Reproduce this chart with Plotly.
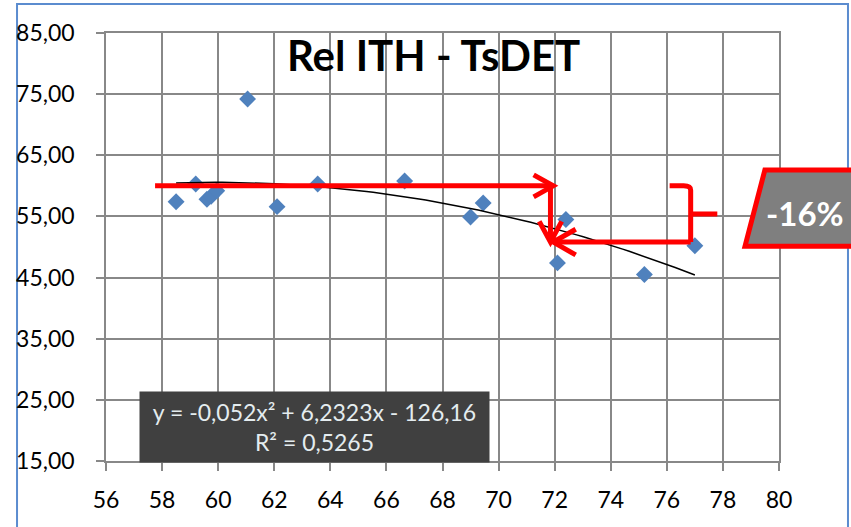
"""
Rel ITH - TsDET scatter with quadratic trend line and the -16% callout.
"""
import numpy as np
import plotly.graph_objects as go

# Data points
ith_x = [58.5, 59.2, 59.6, 59.75, 59.95, 61.05, 62.1, 63.55, 66.65, 69.0, 69.45, 72.4, 72.1, 75.2, 77.0]
tsdet_y = [57.4, 60.3, 57.8, 58.3, 59.2, 74.2, 56.6, 60.3, 60.8, 54.9, 57.2, 54.5, 47.4, 45.5, 50.2]

# Trend line coefficients shown in the chart (y = a x^2 + b x + c)
trend_a = -0.052
trend_b = 6.2323
trend_c = -126.16
trend_label = "y = -0,052x² + 6,2323x - 126,16<br>R² = 0,5265"

# Callout levels (before / after)
level_before = 60.0
level_after = 50.8
callout_text = "-16%"

x_ticks = list(range(56, 81, 2))
y_ticks = list(range(15, 86, 10))

FONT = "Lato, 'Liberation Sans', sans-serif"
GRID = "#888888"
RED = "#ff0000"

fig = go.Figure()

fig.add_scatter(
    x=ith_x, y=tsdet_y, mode="markers",
    marker=dict(symbol="diamond", size=13, color="#4f81bd", line=dict(width=0)),
    showlegend=False,
)

trend_x = np.linspace(min(ith_x), max(ith_x), 80)
trend_y = trend_a * trend_x ** 2 + trend_b * trend_x + trend_c
fig.add_scatter(
    x=trend_x, y=trend_y, mode="lines",
    line=dict(color="black", width=1.5),
    showlegend=False,
)

# --- Red arrows and bracket (data coordinates)
red_line = dict(color=RED, width=5)
shapes = [
    # horizontal arrow at the "before" level
    dict(type="line", x0=57.75, x1=71.95, y0=level_before, y1=level_before, line=red_line),
    dict(type="path", path=f"M 71.25,61.8 L 71.95,{level_before} L 71.25,58.2", line=red_line),
    # vertical drop
    dict(type="line", x0=71.85, x1=71.85, y0=level_before, y1=level_after, line=red_line),
    dict(type="path", path=f"M 71.45,54.2 L 71.85,{level_after} L 72.25,54.2", line=red_line),
    # arrow back at the "after" level
    dict(type="line", x0=76.85, x1=71.95, y0=level_after, y1=level_after, line=red_line),
    dict(type="path", path=f"M 72.75,52.9 L 71.95,{level_after} L 72.75,48.7", line=red_line),
    # bracket
    dict(type="path",
         path=f"M 76.1,{level_before} L 76.6,{level_before} Q 76.85,{level_before} 76.85,59.3 "
              f"L 76.85,{level_after}",
         line=red_line),
    dict(type="line", x0=76.85, x1=77.8, y0=55.4, y1=55.4, line=red_line),
]

# --- Callout box (paper coordinates, runs past the right edge)
shapes.append(dict(
    type="path", xref="paper", yref="paper",
    path="M 0.979,0.680 L 1.13,0.680 L 1.13,0.502 L 0.9495,0.502 Z",
    fillcolor="#7f7f7f", line=dict(color=RED, width=5), layer="above",
))

# --- Outer chart border
shapes.append(dict(
    type="rect", xref="paper", yref="paper",
    x0=-0.1322, x1=1.1025, y0=-0.3, y1=1.0678,
    line=dict(color="#5b8ccf", width=2), layer="below",
))

fig.update_layout(shapes=shapes)

fig.add_annotation(
    text="<b>Rel ITH - TsDET</b>", xref="paper", yref="paper",
    x=0.486, y=0.9486, xanchor="center", yanchor="middle", showarrow=False,
    font=dict(family=FONT, size=42, color="black"),
)
fig.add_annotation(
    text=f"<b>{callout_text}</b>", xref="paper", yref="paper",
    x=1.1, y=0.579, xanchor="right", yanchor="middle", showarrow=False,
    font=dict(family=FONT, size=33, color="white"),
)
fig.add_annotation(
    text=trend_label, x=63.44, y=20.55, showarrow=False,
    bgcolor="#404040", width=349, height=70, borderpad=0,
    font=dict(family=FONT, size=23, color="#e4ecef"),
)

fig.update_xaxes(
    range=[56, 80], tickvals=x_ticks, ticktext=[str(v) for v in x_ticks],
    showgrid=True, gridcolor=GRID, gridwidth=1.5,
    showline=True, linecolor=GRID, linewidth=1.5, mirror=True,
    ticks="outside", ticklen=8, tickcolor=GRID, tickwidth=1.5,
    ticklabelstandoff=10, zeroline=False, automargin=False,
    tickfont=dict(family=FONT, size=23, color="black"),
)
fig.update_yaxes(
    range=[15, 85], tickvals=y_ticks, tickformat=".2f",
    showgrid=True, gridcolor=GRID, gridwidth=1.5,
    showline=True, linecolor=GRID, linewidth=1.5, mirror=True,
    ticks="outside", ticklen=8, tickcolor=GRID, tickwidth=1.5,
    ticklabelstandoff=17, zeroline=False, automargin=False,
    tickfont=dict(family=FONT, size=23, color="black"),
)

fig.update_layout(
    width=851, height=527,
    margin=dict(l=106, r=72, t=33, b=66),
    separators=", ",
    plot_bgcolor="white", paper_bgcolor="white",
    showlegend=False,
)

# drop the default page margin so the figure fills the window exactly
fig.write_html(
    "out.html",
    config={"displayModeBar": False},
    post_script="document.body.style.margin='0'; document.body.style.overflow='hidden';",
)
